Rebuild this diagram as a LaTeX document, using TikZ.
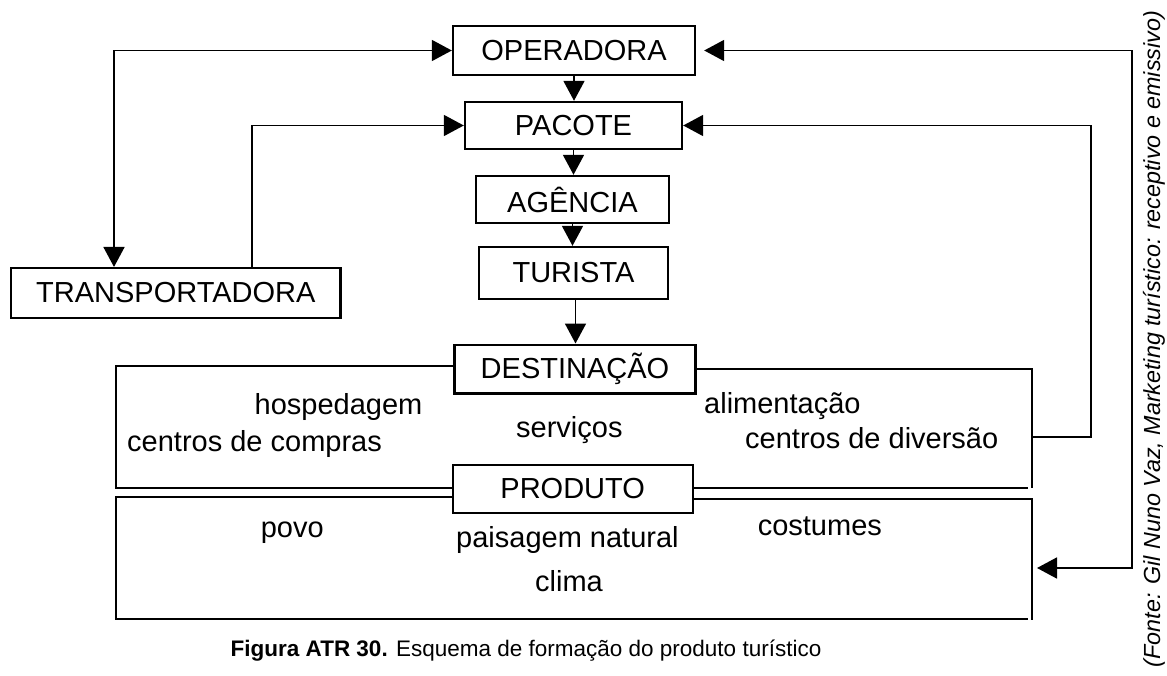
\documentclass[tikz,border=0pt]{standalone}
\usepackage{fontspec}
\setmainfont{Liberation Sans}
\usetikzlibrary{arrows.meta}
\tikzset{
  box/.style={draw, line width=2.4pt, fill=white, inner sep=0pt, font=\fontsize{29}{34}\selectfont},
  lbl/.style={inner sep=0pt, font=\fontsize{29}{34}\selectfont},
  frame/.style={line width=2pt},
  arr/.style={-{Triangle[length=20pt,width=21pt]}, line width=1.8pt},
  arrb/.style={{Triangle[length=20pt,width=21pt]}-{Triangle[length=20pt,width=21pt]}, line width=1.8pt}
}
\begin{document}
\begin{tikzpicture}[x=1pt,y=-1pt]
\useasboundingbox (0,0) rectangle (1167,676);
% frames
\coordinate (dtl) at (116,366);
\coordinate (dtr) at (1032,369);
\coordinate (dbl) at (116,488);
\coordinate (dbr) at (1028,488);
\coordinate (ptl) at (116,497);
\coordinate (ptr) at (1032,499);
\coordinate (pbl) at (116,619);
\coordinate (pbr) at (1028,619);
\draw[frame] (455,366) -- (dtl) -- (dbl) -- (dbr);
\draw[frame] (695,369) -- (dtr) -- (1032,488);
\draw[frame] (455,497) -- (ptl) -- (pbl) -- (pbr);
\draw[frame] (692,499) -- (ptr) -- (1032,620);
% boxes
\node[box, minimum width=242pt, minimum height=49pt] (ope) at (574,50.5) {OPERADORA};
\node[box, minimum width=217pt, minimum height=47pt] (pac) at (573.5,125.5) {PACOTE};
\node[box, minimum width=193pt, minimum height=47pt] (age) at (572.5,199.5) {AGÊNCIA};
\node[box, minimum width=189pt, minimum height=52pt] (tur) at (573.5,273) {TURISTA};
\node[box, minimum width=241pt, minimum height=48.6pt] (des) at (575,369) {DESTINAÇÃO};
\node[box, minimum width=240pt, minimum height=48pt] (pro) at (572.7,489) {PRODUTO};
\node[box, minimum width=329.7pt, minimum height=49.7pt] (tra) at (175.8,293) {TRANSPORTADORA};
% texts
\node[lbl, anchor=base west] (t1) at (254.5,414) {hospedagem};
\node[lbl, anchor=base west] (t2) at (127,451) {centros de compras};
\node[lbl, anchor=base west] (t3) at (516,437) {serviços};
\node[lbl, anchor=base west] (t4) at (704,413) {alimentação};
\node[lbl, anchor=base west] (t5) at (745,448) {centros de diversão};
\node[lbl, anchor=base west] (t6) at (260.6,537) {povo};
\node[lbl, anchor=base west] (t7) at (456,547) {paisagem natural};
\node[lbl, anchor=base west] (t8) at (757.6,535) {costumes};
\node[lbl, anchor=base west] (t9) at (535,591) {clima};
% connectors
\coordinate (L1) at (114,0);
\coordinate (T1) at (252,0);
\coordinate (R1) at (1091,0);
\coordinate (R2) at (1132,0);
\coordinate (dr) at (1032,437);
\coordinate (pe) at (1032,568);
\draw[arr] (ope.south) -- (ope.south |- pac.north);
\draw[arr] (pac.south) -- (pac.south |- age.north);
\draw[arr] (age.south) -- (age.south |- tur.north);
\draw[arr] ([xshift=2pt]tur.south) -- ([xshift=2pt]tur.south |- des.north);
\draw[arrb] (ope.west) -| (L1 |- tra.north);
\draw[arr] (T1 |- tra.north) |- (pac.west);
\draw[arr] (dr) -| (R1 |- pac.east) -- (pac.east);
\draw[arrb, shorten <=8pt, shorten >=5pt] (ope.east) -| (R2 |- pe) -- (pe);
% caption
\node[inner sep=0pt, anchor=base, font=\fontsize{22.5}{27}\selectfont] (cap) at (526,656) {\textbf{Figura ATR 30.} Esquema de formação do produto turístico};
\node[inner sep=0pt, anchor=base, rotate=90, font=\fontsize{23.3}{28}\selectfont\itshape] (src) at (1160,339) {(Fonte: Gil Nuno Vaz, Marketing turístico: receptivo e emissivo)};
\end{tikzpicture}
\end{document}
